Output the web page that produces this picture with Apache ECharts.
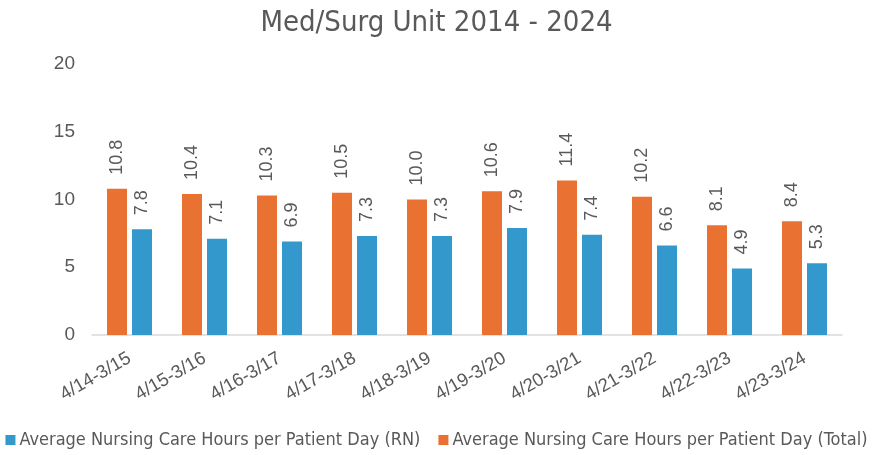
<!DOCTYPE html>
<html><head><meta charset="utf-8">
<script src="https://cdn.jsdelivr.net/npm/echarts@6/dist/echarts.min.js"></script>
<style>html,body{margin:0;padding:0;background:#fff}#c{width:873px;height:455px}</style>
</head><body><div id="c"></div>
<script>
const categories = ['4/14-3/15','4/15-3/16','4/16-3/17','4/17-3/18','4/18-3/19','4/19-3/20','4/20-3/21','4/21-3/22','4/22-3/23','4/23-3/24'];
const totalValues = [10.8,10.4,10.3,10.5,10.0,10.6,11.4,10.2,8.1,8.4];
const rnValues = [7.8,7.1,6.9,7.3,7.3,7.9,7.4,6.6,4.9,5.3];
const yTicks = [0,5,10,15,20];
const nameRN = 'Average Nursing Care Hours per Patient Day (RN)';
const nameTotal = 'Average Nursing Care Hours per Patient Day (Total)';
const condensed = '"Liberation Sans Narrow","DejaVu Sans Condensed","Roboto Condensed",sans-serif';
const regular = '"Liberation Sans",Arial,sans-serif';
const chart = echarts.init(document.getElementById('c'));
const lbl = {show:true, position:'top', rotate:90, align:'left', verticalAlign:'middle', distance:14,
  color:'#595959', fontSize:18, fontFamily:regular,
  formatter: p => p.value.toFixed(1)};
chart.setOption({
  animation:false,
  title:{text:'Med/Surg Unit 2014 - 2024', left:'center', top:4,
    textStyle:{fontFamily:condensed, fontSize:29, fontWeight:'normal', color:'#595959'}},
  legend:{data:[nameRN,nameTotal], bottom:1, left:'center', icon:'rect', itemWidth:10, itemHeight:10, itemGap:18,
    textStyle:{fontFamily:condensed, fontSize:18, color:'#595959', padding:[0,0,0,-1]}},
  grid:{left:92, right:31, top:64, bottom:120},
  xAxis:{type:'category', data:categories,
    axisLine:{lineStyle:{color:'#d9d9d9', width:1.5}}, axisTick:{show:false},
    axisLabel:{rotate:30, fontSize:18.5, color:'#595959', fontFamily:regular, margin:22, interval:0}},
  yAxis:{type:'value', min:0, max:20, interval:5,
    axisLine:{show:false}, axisTick:{show:false}, splitLine:{show:false},
    axisLabel:{fontSize:19, color:'#595959', margin:17, fontFamily:regular,
      formatter: v => yTicks.includes(v) ? String(v) : ''}},
  series:[
    {name:nameTotal, type:'bar', data:totalValues, barWidth:20, barGap:'25%',
      itemStyle:{color:'#E97132'}, label:lbl},
    {name:nameRN, type:'bar', data:rnValues, barWidth:20, barGap:'25%',
      itemStyle:{color:'#3399CC'}, label:lbl}
  ]
});
</script></body></html>
